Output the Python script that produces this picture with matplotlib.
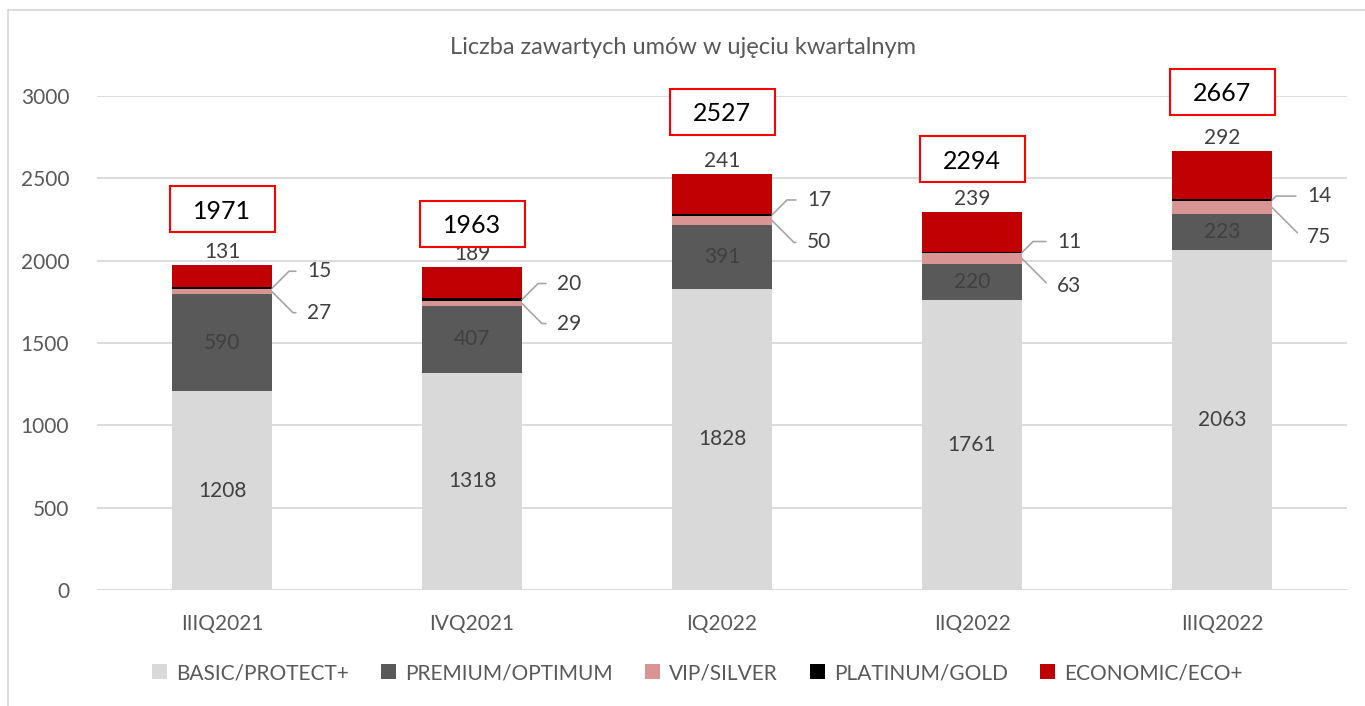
import numpy as np
import matplotlib
matplotlib.use("Agg")
import matplotlib.pyplot as plt
from matplotlib.patches import Rectangle
from matplotlib.transforms import offset_copy

plt.rcParams['font.family'] = ['Lato', 'DejaVu Sans']

quarters = ['IIIQ2021', 'IVQ2021', 'IQ2022', 'IIQ2022', 'IIIQ2022']
basic = [1208, 1318, 1828, 1761, 2063]
premium = [590, 407, 391, 220, 223]
vip = [27, 29, 50, 63, 75]
platinum = [15, 20, 17, 11, 14]
economic = [131, 189, 241, 239, 292]
series_names = ['BASIC/PROTECT+', 'PREMIUM/OPTIMUM', 'VIP/SILVER', 'PLATINUM/GOLD', 'ECONOMIC/ECO+']

colors = ['#d9d9d9', '#595959', '#d99594', '#000000', '#c00000']
txt_color = '#595959'
lbl_color = '#404040'

# pixel offsets for the hand placed bits (leaders, total boxes)
plat_dy = [17, 16, 15, 11, 4]
vip_dy = [-21, -20, -22, -27, -30]
box_dy = [33, 20, 39, 30, 36]

fig = plt.figure(figsize=(13.65, 7.06), dpi=100)
ax = fig.add_axes([97/1365, 1 - 590/706, 1250/1365, 494/706])

x = np.arange(len(quarters))
width = 0.4
series = [basic, premium, vip, platinum, economic]
bottom = np.zeros(len(quarters))
bottoms = []
for vals, col, name in zip(series, colors, series_names):
    ax.bar(x, vals, width, bottom=bottom, color=col, label=name, zorder=2, linewidth=0)
    bottoms.append(bottom.copy())
    bottom = bottom + np.array(vals)
totals = bottom

ax.set_xlim(-0.5, 4.5)
ax.set_ylim(0, 3000)
ax.set_yticks(range(0, 3001, 500))
ax.yaxis.grid(True, color='#d9d9d9', linewidth=1.3, zorder=0)
ax.set_axisbelow(True)
for s in ['top', 'right', 'left', 'bottom']:
    ax.spines[s].set_visible(False)
ax.axhline(0, color='#d9d9d9', linewidth=1.3, zorder=1)
ax.tick_params(length=0, labelsize=15, labelcolor=txt_color)
ax.tick_params(axis='y', pad=20)
ax.tick_params(axis='x', pad=17)
ax.set_xticks(x)
ax.set_xticklabels(quarters)

fs = 15
# labels inside the big segments
for i in x:
    ax.text(i, bottoms[0][i] + basic[i] / 2, str(basic[i]), ha='center', va='center',
            fontsize=fs, color=lbl_color)
    ax.text(i, bottoms[1][i] + premium[i] / 2, str(premium[i]), ha='center', va='center',
            fontsize=fs, color=lbl_color)
    ax.annotate(str(economic[i]), (i, totals[i]), xytext=(0, 3), textcoords='offset pixels',
                ha='center', va='bottom', fontsize=fs, color=lbl_color)

# leader labels for the thin segments
edge = width / 2
for i in x:
    ax.annotate(str(platinum[i]), (i + edge, bottoms[3][i] + platinum[i] / 2),
                xytext=(35, plat_dy[i]), textcoords='offset pixels',
                ha='left', va='center', fontsize=fs, color=lbl_color,
                arrowprops=dict(arrowstyle='-', color='#a6a6a6', lw=1.2, shrinkA=6, shrinkB=0,
                                relpos=(0, 0.5),
                                connectionstyle='angle,angleA=0,angleB=45,rad=0'))
    ax.annotate(str(vip[i]), (i + edge, bottoms[2][i] + vip[i] / 2),
                xytext=(35, vip_dy[i]), textcoords='offset pixels',
                ha='left', va='center', fontsize=fs, color=lbl_color,
                arrowprops=dict(arrowstyle='-', color='#a6a6a6', lw=1.2, shrinkA=6, shrinkB=0,
                                relpos=(0, 0.5),
                                connectionstyle='angle,angleA=0,angleB=-45,rad=0'))

# boxed totals
for i in x:
    tr = offset_copy(ax.transData, fig=fig, y=box_dy[i], units='dots')
    ax.add_patch(Rectangle((i - 0.21, totals[i]), 0.42, 280, transform=tr, fill=True,
                           facecolor='white', edgecolor='#ff0000', linewidth=1.5,
                           clip_on=False, zorder=4))
    tr2 = offset_copy(ax.transData, fig=fig, y=box_dy[i] + 21, units='dots')
    ax.text(i, totals[i], str(int(totals[i])), transform=tr2, ha='center', va='center',
            fontsize=18, color='black', zorder=5, clip_on=False)

fig.text(0.5, 1 - 47/706, 'Liczba zawartych umów w ujęciu kwartalnym', ha='center', va='center',
         fontsize=17, color=txt_color)

leg = fig.legend(loc='center', bbox_to_anchor=(0.511, 1 - 673/706), ncol=5, frameon=False,
                 fontsize=fs, handlelength=0.7, handleheight=0.7, handletextpad=0.45,
                 columnspacing=1.55)
for t in leg.get_texts():
    t.set_color(txt_color)

# outer chart border
fig.add_artist(plt.Line2D([8/1365, 8/1365], [0, 1 - 10/706], color='#d9d9d9', lw=1.3))
fig.add_artist(plt.Line2D([8/1365, 1], [1 - 10/706, 1 - 10/706], color='#d9d9d9', lw=1.3))

fig.savefig('out.png', dpi=100)
